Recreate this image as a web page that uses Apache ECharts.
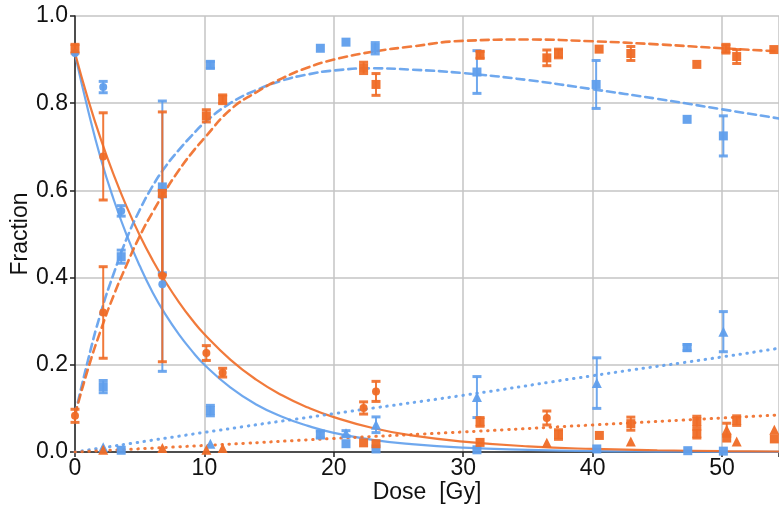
<!DOCTYPE html>
<html>
<head>
<meta charset="utf-8">
<script src="https://cdn.jsdelivr.net/npm/echarts@6/dist/echarts.min.js"></script>
<style>
  html, body { margin: 0; padding: 0; background: #fff; }
  #chart { width: 779px; height: 515px; }
</style>
</head>
<body>
<div id="chart"></div>
<script>
// Fitted model curves, sampled as [dose, fraction]
const blueDecay = [[0,0.912],[1,0.785],[2,0.672],[3,0.578],[4,0.497],[5,0.427],[6,0.366],[7,0.315],[8,0.271],[9,0.233],[10,0.200],[12,0.148],[14,0.109],[16,0.081],[18,0.060],[20,0.044],[23,0.028],[26,0.018],[30,0.010],[35,0.005],[40,0.002],[45,0.001],[50,0.0005],[54.4,0.0003]];
const orangeDecay = [[0,0.915],[1,0.81],[2,0.717],[3,0.635],[4,0.562],[5,0.497],[6,0.44],[7,0.39],[8,0.345],[9,0.305],[10,0.270],[12,0.212],[14,0.166],[16,0.130],[18,0.102],[20,0.080],[23,0.055],[26,0.038],[30,0.024],[35,0.013],[40,0.007],[45,0.004],[50,0.002],[54.4,0.0012]];
const blueRise = [[0,0.085],[1,0.21],[2,0.32],[3,0.41],[4,0.49],[5,0.555],[6,0.61],[7,0.655],[8,0.692],[9,0.725],[10,0.755],[12,0.80],[14,0.83],[16,0.852],[18,0.866],[20,0.875],[23,0.880],[26,0.877],[30,0.869],[35,0.853],[40,0.832],[45,0.81],[50,0.786],[54.4,0.765]];
const orangeRise = [[0,0.085],[1,0.19],[2,0.28],[3,0.36],[4,0.43],[5,0.495],[6,0.55],[7,0.60],[8,0.645],[9,0.685],[10,0.72],[12,0.785],[14,0.825],[16,0.857],[18,0.882],[20,0.90],[23,0.918],[26,0.93],[30,0.943],[35,0.946],[40,0.942],[45,0.935],[50,0.926],[54.4,0.919]];
const blueLinear = [[0,0],[10,0.045],[20,0.088],[30,0.13],[40,0.175],[50,0.218],[54.4,0.238]];
const orangeLinear = [[0,0],[10,0.015],[20,0.031],[30,0.046],[40,0.062],[50,0.078],[54.4,0.085]];

// Measurements as [dose, fraction, error]
const blueCircles = [[0,0.915,0],[2.18,0.837,0.013],[3.57,0.553,0.012],[6.75,0.385,0.2]];
const blueSquares = [[2.18,0.15,0.014],[3.57,0.448,0.015],[6.75,0.608,0.197],[10.46,0.888,0.008],[10.46,0.095,0.012],[18.96,0.926,0],[18.96,0.04,0.008],[20.94,0.94,0],[20.94,0.019,0],[23.2,0.926,0.013],[31.06,0.8715,0.049],[40.27,0.843,0.055],[47.3,0.763,0],[47.3,0.2395,0.007],[50.1,0.725,0.046],[3.57,0.004,0],[23.26,0.007,0],[31.06,0.005,0],[40.32,0.007,0],[47.35,0.003,0],[50.1,0.002,0]];
const blueTriangles = [[2.18,0.011,0],[10.46,0.019,0],[20.94,0.043,0.006],[23.26,0.0625,0.018],[31.06,0.126,0.047],[40.32,0.158,0.058],[50.1,0.276,0.046]];
const orangeCircles = [[2.18,0.678,0.1],[2.18,0.32,0.105],[6.75,0.404,0.197],[10.15,0.227,0.017],[11.41,0.182,0.01],[22.3,0.101,0.014],[23.26,0.139,0.023],[36.46,0.078,0.016],[0,0.083,0.015]];
const orangeSquares = [[0,0.925,0.01],[6.75,0.593,0.187],[10.15,0.771,0.014],[11.41,0.809,0.01],[22.3,0.881,0.013],[23.26,0.843,0.025],[31.3,0.911,0.008],[36.46,0.904,0.018],[37.36,0.914,0.01],[40.5,0.924,0],[42.95,0.914,0.016],[48.05,0.889,0],[50.3,0.925,0.01],[51.13,0.907,0.016],[54.0,0.923,0],[22.3,0.021,0],[23.26,0.019,0],[31.3,0.069,0.01],[31.3,0.022,0],[37.36,0.04,0.011],[40.52,0.038,0],[48.05,0.07,0.012],[48.05,0.042,0.01],[50.36,0.032,0],[51.13,0.072,0.011],[54.04,0.03,0],[42.95,0.065,0.015]];
const orangeTriangles = [[2.18,0.005,0],[6.75,0.009,0],[10.15,0.005,0],[11.41,0.009,0],[36.46,0.021,0],[42.95,0.024,0],[50.36,0.051,0.015],[51.13,0.024,0],[54.04,0.051,0]];

const xTicks = [0, 10, 20, 30, 40, 50];
const yTicks = [0, 0.2, 0.4, 0.6, 0.8, 1.0];

const BLUE = '#5f9eec';
const ORANGE = '#ef6b26';
const FONT = '"Liberation Sans", Arial, Helvetica, sans-serif';
const FONT_SIZE = 23;

function curve(data, color, dash, width) {
  return {
    type: 'line', data: data, smooth: true, showSymbol: false, symbol: 'none',
    silent: true, z: 2,
    lineStyle: { color: color, width: width, type: dash, cap: 'round', opacity: 0.9 }
  };
}

function errorBars(points, color) {
  const withErr = points.filter(p => p[2] > 0).map(p => [p[0], p[1] - p[2], p[1] + p[2]]);
  return {
    type: 'custom', silent: true, z: 3,
    data: withErr,
    encode: { x: 0, y: [1, 2] },
    renderItem: function (params, api) {
      const lo = api.coord([api.value(0), api.value(1)]);
      const hi = api.coord([api.value(0), api.value(2)]);
      const hw = 4.5;
      const style = { stroke: color, lineWidth: 2, fill: null, opacity: 0.9 };
      const capStyle = { stroke: color, lineWidth: 3, fill: null, opacity: 0.9 };
      return {
        type: 'group',
        children: [
          { type: 'line', shape: { x1: lo[0], y1: lo[1], x2: hi[0], y2: hi[1] }, style: style },
          { type: 'line', shape: { x1: lo[0] - hw, y1: lo[1], x2: lo[0] + hw, y2: lo[1] }, style: capStyle },
          { type: 'line', shape: { x1: hi[0] - hw, y1: hi[1], x2: hi[0] + hw, y2: hi[1] }, style: capStyle }
        ]
      };
    }
  };
}

function markers(points, color, symbol, size) {
  return {
    type: 'scatter', silent: true, z: 4,
    data: points.map(p => [p[0], p[1]]),
    symbol: symbol, symbolSize: size,
    itemStyle: { color: color, opacity: 0.95 }
  };
}

const chart = echarts.init(document.getElementById('chart'), null, { renderer: 'canvas' });

chart.setOption({
  animation: false,
  backgroundColor: '#ffffff',
  grid: { left: 75, right: 0, top: 16, bottom: 63, containLabel: false, outerBoundsMode: 'none' },
  xAxis: {
    type: 'value', min: 0, max: 54.4, interval: 10,
    name: 'Dose  [Gy]', nameLocation: 'middle', nameGap: 29, nameMoveOverlap: false,
    nameTextStyle: { fontFamily: FONT, fontSize: FONT_SIZE, color: '#111' },
    axisLine: { show: true, onZero: false, lineStyle: { color: '#222', width: 1.5 } },
    axisTick: { show: true, length: 5, lineStyle: { color: '#222', width: 1.5 } },
    axisLabel: {
      fontFamily: FONT, fontSize: FONT_SIZE, color: '#111', margin: 5,
      formatter: v => xTicks.includes(v) ? String(v) : ''
    },
    splitLine: { show: true, lineStyle: { color: '#c4c4c4', width: 1.5 } }
  },
  yAxis: {
    type: 'value', min: 0, max: 1, interval: 0.2,
    name: 'Fraction', nameLocation: 'middle', nameGap: 43, nameMoveOverlap: false,
    nameTextStyle: { fontFamily: FONT, fontSize: FONT_SIZE, color: '#111' },
    axisLine: { show: true, onZero: false, lineStyle: { color: '#222', width: 1.5 } },
    axisTick: { show: true, length: 5, lineStyle: { color: '#222', width: 1.5 } },
    axisLabel: {
      fontFamily: FONT, fontSize: FONT_SIZE, color: '#111', margin: 7,
      formatter: v => yTicks.some(t => Math.abs(t - v) < 1e-9) ? v.toFixed(1) : ''
    },
    splitLine: { show: true, lineStyle: { color: '#c4c4c4', width: 1.5 } }
  },
  series: [
    curve(blueDecay, BLUE, 'solid', 2.2),
    curve(orangeDecay, ORANGE, 'solid', 2.2),
    curve(blueRise, BLUE, [8, 5], 2.6),
    curve(orangeRise, ORANGE, [8, 5], 2.6),
    curve(blueLinear, BLUE, [0.5, 6.5], 3),
    curve(orangeLinear, ORANGE, [0.5, 6.5], 3),
    errorBars(blueCircles.concat(blueSquares, blueTriangles), BLUE),
    errorBars(orangeCircles.concat(orangeSquares, orangeTriangles), ORANGE),
    markers(blueCircles, BLUE, 'circle', 8),
    markers(blueSquares, BLUE, 'rect', 9),
    markers(blueTriangles, BLUE, 'triangle', 10),
    markers(orangeCircles, ORANGE, 'circle', 8),
    markers(orangeSquares, ORANGE, 'rect', 9),
    markers(orangeTriangles, ORANGE, 'triangle', 10)
  ]
});
</script>
</body>
</html>
